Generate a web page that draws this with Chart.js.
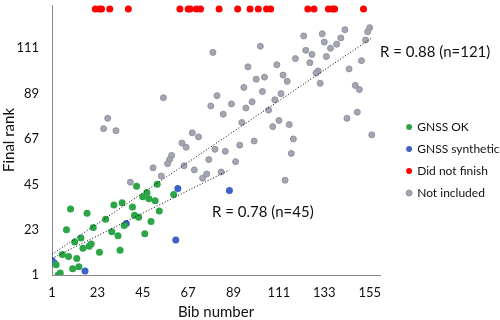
<!DOCTYPE html>
<html>
<head>
<meta charset="utf-8">
<script src="https://cdn.jsdelivr.net/npm/chart.js"></script>
<style>
  html, body { margin: 0; padding: 0; background: #fff; }
</style>
</head>
<body>
<canvas id="rank-vs-bib" width="500" height="320"></canvas>
<script>
// values (bib number -> final rank)
const okBib  = [42, 52, 60, 45, 47, 48, 51, 40, 53, 31, 35, 10, 18, 27, 41, 43, 49, 36, 21, 8, 30, 33, 46, 12, 15, 16, 19, 20, 24, 34, 6, 9, 13, 11, 14, 3, 5, 4];
const okRank = [44, 45, 40, 39, 41, 38, 37, 34, 32, 35, 36, 33, 31, 28, 30, 29, 27, 25, 24, 23, 22, 20, 21, 17, 19, 14, 15, 16, 12, 13, 11, 10, 9, 4, 5, 6, 2, 1];

const synBib  = [1, 2, 17, 37, 62, 61, 87];
const synRank = [8, 7, 3, 26, 43, 18, 42];

const dnfBib = [22, 24, 25, 29, 38, 63, 67, 68, 71, 73, 82, 91, 97, 101, 105, 107, 125, 128, 135, 137, 138, 152];
const dnfRank = 130; // plotted as a row along the top

const otherBib  = [55, 28, 26, 32, 69, 72, 64, 66, 59, 58, 57, 79, 102, 96, 100, 104, 94, 81, 78, 88, 98, 95, 103,
                   123, 132, 143, 155, 154, 153, 141, 139, 133, 136, 124, 127, 134, 119, 126, 110, 151, 145, 130, 129,
                   113, 115, 131, 148, 150, 112, 109, 106, 84, 149, 144, 111, 93, 108, 116, 156, 118, 80, 85, 92, 99,
                   77, 90, 117, 114, 65, 70, 74, 76, 83, 50, 54, 39];
const otherRank = [87, 77, 72, 71, 70, 68, 65, 63, 59, 57, 55, 109, 112, 102, 96, 97, 92, 88, 83, 84, 85, 82, 90,
                   117, 118, 120, 121, 119, 115, 116, 113, 114, 111, 110, 108, 107, 106, 104, 103, 105, 101, 100, 99,
                   98, 95, 94, 93, 91, 89, 86, 81, 79, 80, 77, 76, 75, 73, 74, 69, 67, 62, 61, 64, 66,
                   57, 56, 60, 47, 54, 52, 48, 50, 51, 53, 49, 46];

// regression lines (end points in data units)
const fitAll = [{ x: 1, y: 11 }, { x: 156, y: 116 }];
const fitGnss = [{ x: 1, y: 9 }, { x: 87, y: 52 }];

const xTicks = [1, 23, 45, 67, 89, 111, 133, 155];
const yTicks = [1, 23, 45, 67, 89, 111];

const notes = [
  { text: 'R = 0.88 (n=121)', x: 160, y: 109 },
  { text: 'R = 0.78 (n=45)', x: 78.6, y: 31.3 },
];

const FONT = 'Lato';

const pairs = (xs, ys) => xs.map((v, i) => ({ x: v, y: ys[i] }));

const notePlugin = {
  id: 'notes',
  afterDatasetsDraw(chart) {
    const { ctx, scales: { x, y } } = chart;
    ctx.save();
    ctx.font = '15px ' + FONT;
    ctx.fillStyle = '#111';
    ctx.textBaseline = 'middle';
    notes.forEach(n => ctx.fillText(n.text, x.getPixelForValue(n.x), y.getPixelForValue(n.y)));
    ctx.restore();
  },
};

const trend = (data) => ({
  type: 'line',
  data,
  borderColor: '#000',
  borderWidth: 1,
  borderDash: [1, 2],
  pointRadius: 0,
  fill: false,
});

new Chart(document.getElementById('rank-vs-bib'), {
  type: 'scatter',
  data: {
    datasets: [
      trend(fitAll),
      trend(fitGnss),
      { label: 'GNSS OK', data: pairs(okBib, okRank), backgroundColor: '#2ba545', borderColor: '#2ba545', borderWidth: 0, pointRadius: 3.5 },
      { label: 'GNSS synthetic', data: pairs(synBib, synRank), backgroundColor: '#3c63c3', borderColor: '#3c63c3', borderWidth: 0, pointRadius: 3.5 },
      { label: 'Did not finish', data: dnfBib.map(b => ({ x: b, y: dnfRank })), backgroundColor: '#ff0000', borderColor: '#ff0000', borderWidth: 0, pointRadius: 3.5 },
      { label: 'Not included', data: pairs(otherBib, otherRank), backgroundColor: '#a4a7b1', borderColor: '#8f93a0', borderWidth: 1, pointRadius: 3 },
    ],
  },
  options: {
    responsive: false,
    animation: false,
    layout: { padding: 0 },
    plugins: {
      tooltip: { enabled: false },
      legend: {
        position: 'right',
        align: 'center',
        maxWidth: 103,
        labels: {
          usePointStyle: true,
          pointStyle: 'circle',
          boxWidth: 4.2,
          boxHeight: 4.2,
          padding: 10,
          color: '#111',
          font: { family: FONT, size: 12 },
          filter: item => !!item.text,
        },
      },
    },
    scales: {
      x: {
        type: 'linear',
        min: 1,
        max: 160,
        afterBuildTicks: s => { s.ticks = xTicks.map(v => ({ value: v })); },
        afterFit: s => { s.height = 45; },
        grid: { display: false, drawTicks: false },
        border: { display: true, color: '#8a8a8a', width: 1 },
        ticks: { padding: 10, color: '#111', font: { family: FONT, size: 13 } },
        title: { display: true, text: 'Bib number', color: '#111', padding: 0, font: { family: FONT, size: 15, lineHeight: 1 } },
      },
      y: {
        type: 'linear',
        min: 1,
        max: 132,
        afterBuildTicks: s => { s.ticks = yTicks.map(v => ({ value: v })); },
        afterFit: s => { s.width = 52; s.paddingTop = 0; },
        grid: { display: false, drawTicks: false },
        border: { display: true, color: '#8a8a8a', width: 1 },
        ticks: { padding: 13, color: '#111', font: { family: FONT, size: 13 } },
        title: { display: true, text: 'Final rank', color: '#111', padding: 0, font: { family: FONT, size: 15 } },
      },
      gap: {
        type: 'linear',
        position: 'right',
        display: false,
        afterFit: s => { s.width = 17; },
      },
    },
  },
  plugins: [notePlugin],
});
</script>
</body>
</html>
